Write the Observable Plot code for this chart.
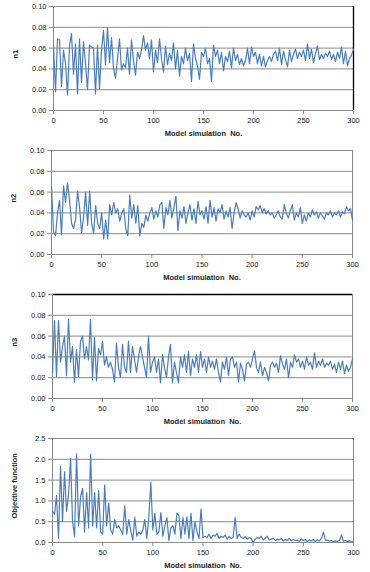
<!DOCTYPE html>
<html><head><meta charset="utf-8">
<script src="https://cdn.jsdelivr.net/npm/d3@7"></script>
<script src="https://cdn.jsdelivr.net/npm/@observablehq/plot@0.6"></script>
<style>
body{margin:0;background:#fff;width:370px;height:572px;position:relative;overflow:hidden;font-family:"Liberation Sans",Arial,sans-serif}
.p{position:absolute;left:0}
</style></head><body>
<div id="c"></div>
<script>
// simulation numbers are sampled every 2 runs (0,2,...,300)
const n1 = [0.062,0.018,0.069,0.068,0.023,0.058,0.045,0.015,0.062,0.074,0.035,0.064,0.016,0.069,0.027,0.066,0.045,0.020,0.063,0.061,0.060,0.016,0.063,0.021,0.058,0.077,0.044,0.080,0.046,0.070,0.041,0.031,0.050,0.069,0.039,0.045,0.041,0.060,0.035,0.068,0.048,0.034,0.056,0.050,0.058,0.072,0.058,0.065,0.050,0.068,0.037,0.058,0.046,0.069,0.050,0.037,0.062,0.044,0.055,0.048,0.065,0.040,0.058,0.033,0.052,0.045,0.060,0.048,0.055,0.028,0.064,0.050,0.043,0.030,0.056,0.052,0.060,0.045,0.050,0.028,0.063,0.052,0.058,0.045,0.056,0.038,0.052,0.047,0.057,0.041,0.060,0.048,0.054,0.044,0.050,0.043,0.048,0.060,0.045,0.061,0.052,0.056,0.045,0.054,0.043,0.052,0.042,0.048,0.052,0.047,0.054,0.057,0.048,0.060,0.044,0.057,0.049,0.042,0.058,0.047,0.054,0.059,0.050,0.056,0.052,0.058,0.048,0.064,0.050,0.059,0.046,0.055,0.062,0.049,0.054,0.050,0.055,0.052,0.057,0.049,0.054,0.047,0.056,0.050,0.061,0.045,0.057,0.043,0.050,0.053,0.059];
const n2 = [0.065,0.022,0.018,0.040,0.052,0.019,0.066,0.050,0.069,0.052,0.030,0.025,0.034,0.061,0.045,0.021,0.036,0.060,0.028,0.061,0.030,0.020,0.047,0.030,0.025,0.040,0.015,0.033,0.015,0.048,0.038,0.050,0.040,0.044,0.032,0.040,0.044,0.025,0.018,0.057,0.035,0.048,0.030,0.047,0.018,0.030,0.026,0.038,0.032,0.040,0.045,0.034,0.042,0.036,0.048,0.050,0.025,0.045,0.038,0.052,0.035,0.045,0.056,0.023,0.042,0.035,0.046,0.030,0.040,0.048,0.033,0.044,0.030,0.051,0.038,0.042,0.034,0.046,0.030,0.052,0.036,0.045,0.032,0.044,0.040,0.048,0.034,0.042,0.036,0.045,0.025,0.040,0.050,0.044,0.035,0.042,0.038,0.036,0.040,0.033,0.042,0.036,0.046,0.043,0.047,0.040,0.044,0.039,0.042,0.038,0.040,0.035,0.038,0.042,0.036,0.034,0.048,0.040,0.035,0.042,0.048,0.033,0.040,0.036,0.045,0.030,0.038,0.032,0.040,0.036,0.043,0.038,0.041,0.035,0.040,0.037,0.034,0.040,0.038,0.042,0.036,0.040,0.038,0.042,0.036,0.041,0.039,0.046,0.042,0.044,0.033];
const n3 = [0.025,0.075,0.021,0.075,0.035,0.050,0.060,0.022,0.076,0.035,0.050,0.016,0.047,0.021,0.055,0.060,0.038,0.050,0.037,0.076,0.018,0.059,0.017,0.048,0.042,0.055,0.032,0.040,0.030,0.035,0.028,0.016,0.053,0.030,0.020,0.052,0.030,0.025,0.055,0.025,0.050,0.038,0.025,0.040,0.050,0.040,0.030,0.020,0.060,0.025,0.035,0.040,0.025,0.038,0.015,0.042,0.030,0.020,0.040,0.052,0.015,0.035,0.025,0.015,0.040,0.030,0.042,0.025,0.045,0.022,0.038,0.030,0.042,0.025,0.045,0.030,0.038,0.025,0.040,0.030,0.036,0.028,0.038,0.025,0.016,0.035,0.028,0.040,0.022,0.038,0.040,0.030,0.035,0.016,0.034,0.028,0.017,0.033,0.035,0.030,0.038,0.046,0.030,0.025,0.035,0.022,0.030,0.025,0.017,0.032,0.035,0.030,0.034,0.025,0.041,0.033,0.028,0.038,0.020,0.035,0.030,0.042,0.035,0.038,0.030,0.036,0.028,0.040,0.032,0.035,0.028,0.044,0.030,0.036,0.032,0.038,0.030,0.034,0.032,0.036,0.028,0.033,0.025,0.035,0.028,0.036,0.024,0.032,0.026,0.030,0.038];
const objective = [0.75,0.68,1.13,0.10,1.83,0.50,1.70,0.75,1.15,2.02,0.50,0.15,2.13,0.40,1.10,1.30,0.25,1.20,0.35,2.12,0.40,1.20,0.35,1.25,0.25,0.20,1.38,0.40,0.95,0.30,0.20,0.55,0.35,0.40,0.30,0.20,0.88,0.20,0.55,0.30,0.05,0.60,0.15,0.25,0.20,0.30,0.55,0.10,0.60,1.45,0.30,0.70,0.20,0.25,0.72,0.15,0.40,0.60,0.05,0.35,0.40,0.20,0.70,0.65,0.10,0.60,0.20,0.62,0.10,0.70,0.05,0.50,0.25,0.10,0.80,0.12,0.15,0.12,0.20,0.10,0.18,0.15,0.22,0.10,0.15,0.12,0.18,0.08,0.15,0.10,0.12,0.60,0.10,0.20,0.12,0.10,0.14,0.08,0.12,0.10,0.00,0.08,0.12,0.10,0.15,0.06,0.10,0.15,0.06,0.08,0.10,0.05,0.08,0.06,0.10,0.04,0.07,0.05,0.10,0.04,0.08,0.05,0.06,0.03,0.08,0.05,0.07,0.03,0.06,0.04,0.07,0.03,0.06,0.04,0.10,0.25,0.05,0.06,0.03,0.05,0.02,0.04,0.03,0.05,0.18,0.03,0.05,0.02,0.04,0.03,0.03];

const xTicks = [0, 50, 100, 150, 200, 250, 300];
const nTicks = [0, 0.02, 0.04, 0.06, 0.08, 0.10];
const objTicks = [0, 0.5, 1.0, 1.5, 2.0, 2.5];
const xTitle = "Model simulation  No.";
const yTitles = ["n1", "n2", "n3", "Objective function"];

const panels = [
  {title: yTitles[0], values: n1, ticks: nTicks, fmt: d => d.toFixed(2), top: 0, ml: 53, mr: 17, dark: "right", ldy: 0},
  {title: yTitles[1], values: n2, ticks: nTicks, fmt: d => d.toFixed(2), top: 144, ml: 51, mr: 18, dark: null, ldy: 0},
  {title: yTitles[2], values: n3, ticks: nTicks, fmt: d => d.toFixed(2), top: 288, ml: 52, mr: 18, dark: "top", ldy: 0},
  {title: yTitles[3], values: objective, ticks: objTicks, fmt: d => d.toFixed(1), top: 432, ml: 52, mr: 17, dark: null, ldy: 28}
];

const grid = "#8a8a8a";
const c = document.getElementById("c");
for (const p of panels) {
  const data = p.values.map((v, i) => ({sim: i * 2, v}));
  const yMax = p.ticks[p.ticks.length - 1];
  const chart = Plot.plot({
    width: 370, height: 144,
    marginTop: 6, marginBottom: 34, marginLeft: p.ml, marginRight: p.mr,
    style: {fontFamily: '"Liberation Sans", Arial, sans-serif', fontSize: "7.5px", background: "#fff", color: "#222"},
    x: {domain: [0, 300], label: null},
    y: {domain: [0, yMax], label: null},
    marks: [
      Plot.ruleY(p.ticks, {stroke: grid, strokeWidth: 1}),
      Plot.ruleX([300], {stroke: p.dark === "right" ? "#000" : grid, strokeWidth: p.dark === "right" ? 1.3 : 1}),
      p.dark === "top" ? Plot.ruleY([yMax], {stroke: "#000", strokeWidth: 1.3}) : null,
      Plot.ruleX([0], {stroke: grid}),
      Plot.axisY({ticks: p.ticks, tickFormat: p.fmt, tickSize: 4, tickPadding: 3, stroke: grid, fill: "#222", label: null}),
      Plot.axisX({ticks: xTicks, tickFormat: d => d, tickSize: 4, tickPadding: 3, stroke: grid, fill: "#222", label: null}),
      Plot.line(data, {x: "sim", y: "v", stroke: "#4a7ebb", strokeWidth: 1.2}),
      Plot.text([xTitle], {frameAnchor: "bottom", lineAnchor: "top", dy: 20, text: d => d, fontWeight: "bold", fontSize: 7.5, fill: "#222"}),
      Plot.text([p.title], {frameAnchor: "left", rotate: -90, dx: -38, dy: p.ldy, text: d => d, fontWeight: "bold", fontSize: 7.5, fill: "#222"})
    ]
  });
  chart.classList.add("p");
  chart.style.top = p.top + "px";
  c.appendChild(chart);
}
</script>
</body></html>
